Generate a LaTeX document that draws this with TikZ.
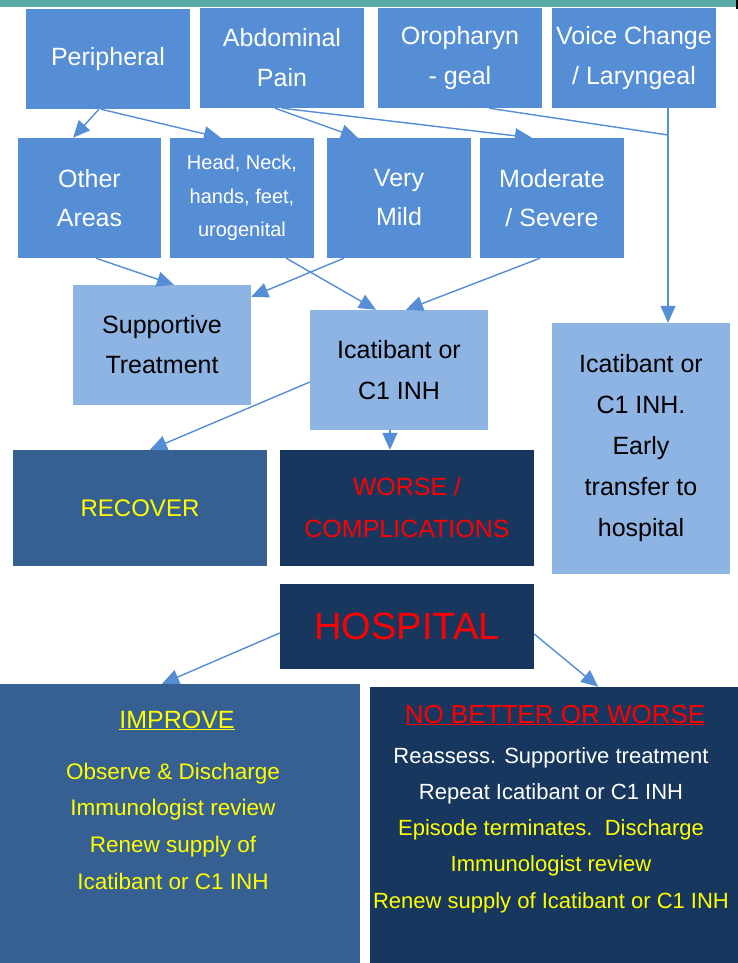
\documentclass[tikz,border=0pt]{standalone}
\usepackage{fontspec}
\setmainfont{Liberation Sans}
\usetikzlibrary{arrows.meta,calc}
\definecolor{midblue}{HTML}{558ED5}
\definecolor{lightblue}{HTML}{8EB4E3}
\definecolor{steelblue}{HTML}{376092}
\definecolor{navy}{HTML}{17375E}
\definecolor{tealbar}{HTML}{5AABA5}
\definecolor{yel}{HTML}{FFFF00}
\definecolor{rd}{HTML}{FF0000}
\begin{document}
\begin{tikzpicture}[x=1pt,y=-1pt,
  box/.style={rectangle,inner sep=2pt,align=center,draw=none},
  toprow/.style={box,fill=midblue,text=white,minimum width=164pt,minimum height=100pt,font=\fontsize{25}{40}\selectfont},
  secrow/.style={box,fill=midblue,text=white,minimum width=144pt,minimum height=120pt,font=\fontsize{25}{39}\selectfont},
  lightbox/.style={box,fill=lightblue,text=black,minimum width=178pt,font=\fontsize{25}{41}\selectfont},
  conn/.style={draw=midblue,line width=1.4pt,-{Triangle[length=17pt,width=15pt]}},
  plainline/.style={draw=midblue,line width=1.4pt}
]
\useasboundingbox (0,0) rectangle (738,963);
\fill[tealbar] (0,0) rectangle (736,7);
\fill[black] (736,0) rectangle (738,9);

% top row
\node[toprow] (peri) at (108,59) {Peripheral};
\node[toprow] (abd) at (282,58) {Abdominal\\Pain};
\node[toprow] (oro) at (460,58) {Oropharyn\\- geal};
\node[toprow] (voice) at (634,58) {Voice Change\\/ Laryngeal};

% second row
\node[secrow,minimum width=143pt] (other) at (89.5,198) {Other\\Areas};
\node[secrow,font=\fontsize{20}{33.5}\selectfont] (head) at (242,198) {Head, Neck,\\hands, feet,\\urogenital};
\node[secrow] (mild) at (399,198) {Very\\Mild};
\node[secrow] (mod) at (552,198) {Moderate\\/ Severe};

% treatment
\node[lightbox,minimum height=120pt,font=\fontsize{25}{40}\selectfont] (supp) at (162,345) {Supportive\\Treatment};
\node[lightbox,minimum height=120pt] (icat) at (399,370) {Icatibant or\\C1 INH};
\node[lightbox,minimum height=251pt] (icat2) at (641,448.5) {Icatibant or\\C1 INH.\\Early\\transfer to\\hospital};

% outcomes
\node[box,fill=steelblue,text=yel,minimum width=254pt,minimum height=116pt,font=\fontsize{24}{30}\selectfont] (recover) at (140,508) {RECOVER};
\node[box,fill=navy,text=rd,minimum width=254pt,minimum height=116pt,font=\fontsize{25}{42}\selectfont] (worse) at (407,508) {WORSE /\\COMPLICATIONS};
\node[box,fill=navy,text=rd,minimum width=254pt,minimum height=85pt,font=\fontsize{38}{44}\selectfont] (hosp) at (407,626.5) {HOSPITAL};

% bottom boxes
\node[box,fill=steelblue,minimum width=360pt,minimum height=279pt,inner sep=0pt] (improve) at (180,823.5) {};
\node[box,fill=navy,minimum width=368pt,minimum height=276pt,inner sep=0pt] (nobetter) at (554,825) {};

\node[anchor=base,text=yel,inner sep=0pt,font=\fontsize{25}{30}\selectfont] (improvetitle) at (177,728) {\underline{IMPROVE}};
\node[align=center,text=yel,inner sep=0pt,font=\fontsize{22.5}{36.7}\selectfont] (improvetext) at (173,826) {Observe \& Discharge\\Immunologist review\\Renew supply of\\Icatibant or C1 INH};

\node[anchor=base,text=rd,inner sep=0pt,font=\fontsize{26}{30}\selectfont] (nbtitle) at (555,723) {\underline{NO BETTER OR WORSE}};
\node[align=center,inner sep=0pt,font=\fontsize{22}{36.25}\selectfont] (nbtext) at (551,830) {\textcolor{white}{Reassess. Supportive treatment}\\\textcolor{white}{Repeat Icatibant or C1 INH}\\\textcolor{yel}{Episode terminates.\ \ Discharge}\\\textcolor{yel}{Immunologist review}\\\textcolor{yel}{Renew supply of Icatibant or C1 INH}};

% connectors
\draw[conn] ($(peri.south west)!0.445!(peri.south east)$) -- ($(other.north west)!0.385!(other.north east)$);
\draw[conn] ($(peri.south west)!0.457!(peri.south east)$) -- ($(head.north west)!0.354!(head.north east)$);
\draw[conn] ($(abd.south west)!0.457!(abd.south east)$) -- ($(mild.north west)!0.215!(mild.north east)$);
\draw[conn] ($(abd.south west)!0.5!(abd.south east)$) -- ($(mod.north west)!0.361!(mod.north east)$);

\coordinate (vtop) at ($(voice.south west)!0.707!(voice.south east)$);
\coordinate (vjoin) at (vtop |- 0,135);
\draw[plainline] ($(oro.south west)!0.677!(oro.south east)$) -- (vjoin);
\draw[conn] (vtop) -- (vtop |- icat2.north);

\draw[conn] ($(other.south west)!0.545!(other.south east)$) -- ($(supp.north west)!0.567!(supp.north east)$);
\draw[conn] ($(head.south west)!0.806!(head.south east)$) -- ($(icat.north west)!0.371!(icat.north east)$);
\draw[conn] ($(mild.south west)!0.118!(mild.south east)$) -- ($(supp.north east)!0.1!(supp.south east)$);
\draw[conn] ($(mod.south west)!0.417!(mod.south east)$) -- ($(icat.north west)!0.539!(icat.north east)$);

\draw[conn] ($(icat.north west)!0.6!(icat.south west)$) -- ($(recover.north west)!0.539!(recover.north east)$);
\coordinate (ibot) at ($(icat.south west)!0.449!(icat.south east)$);
\draw[conn] (ibot) -- (ibot |- worse.north);

\draw[conn] ($(hosp.north west)!0.576!(hosp.south west)$) -- ($(improve.north west)!0.45!(improve.north east)$);
\draw[conn] ($(hosp.north east)!0.588!(hosp.south east)$) -- ($(nobetter.north west)!0.62!(nobetter.north east)$);
\end{tikzpicture}
\end{document}
